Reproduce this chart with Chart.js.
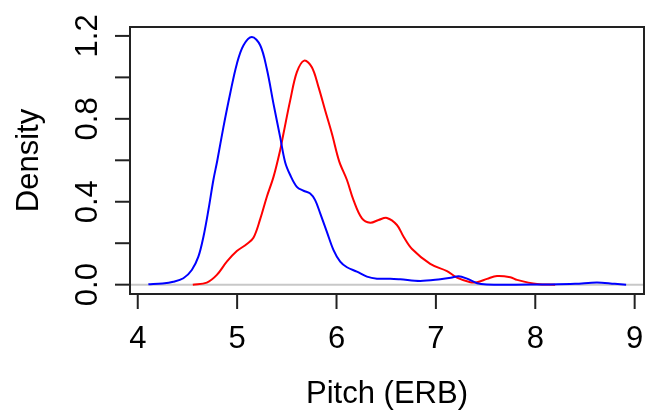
<!DOCTYPE html>
<html>
<head>
<meta charset="utf-8">
<script src="https://cdn.jsdelivr.net/npm/chart.js@4/dist/chart.umd.min.js"></script>
<style>
  html, body { margin: 0; padding: 0; background: #ffffff; }
  #wrap { width: 647px; height: 410px; }
</style>
</head>
<body>
<div id="wrap"><canvas id="c" width="647" height="410"></canvas></div>
<script>
// Kernel density estimates of pitch (ERB) for two groups
const blueX = [4.107, 4.25, 4.358, 4.459, 4.544, 4.61, 4.661, 4.711, 4.761, 4.80, 4.862, 4.929, 4.997, 5.063, 5.148, 5.232, 5.299, 5.366, 5.433, 5.483, 5.534, 5.601, 5.668, 5.735, 5.785, 5.836, 5.903, 5.97, 6.037, 6.105, 6.205, 6.306, 6.407, 6.541, 6.641, 6.843, 7.044, 7.15, 7.229, 7.313, 7.414, 7.51, 7.8, 8.1, 8.4, 8.62, 8.8, 8.914];
const blueY = [0.002, 0.006, 0.014, 0.031, 0.071, 0.135, 0.231, 0.36, 0.505, 0.598, 0.76, 0.92, 1.065, 1.154, 1.195, 1.155, 1.04, 0.872, 0.712, 0.591, 0.529, 0.472, 0.453, 0.44, 0.408, 0.344, 0.255, 0.167, 0.111, 0.084, 0.063, 0.039, 0.029, 0.029, 0.026, 0.018, 0.026, 0.033, 0.041, 0.029, 0.007, 0.001, 0.0, 0.001, 0.004, 0.011, 0.004, 0.0];

const redX = [4.554, 4.695, 4.796, 4.896, 4.997, 5.098, 5.164, 5.232, 5.299, 5.366, 5.433, 5.466, 5.534, 5.601, 5.675, 5.752, 5.819, 5.886, 5.954, 6.027, 6.105, 6.171, 6.256, 6.339, 6.423, 6.507, 6.608, 6.675, 6.76, 6.943, 7.112, 7.212, 7.346, 7.414, 7.515, 7.615, 7.749, 7.817, 8.018, 8.2];
const redY = [0.0, 0.01, 0.047, 0.111, 0.162, 0.196, 0.226, 0.316, 0.424, 0.52, 0.649, 0.728, 0.889, 1.025, 1.081, 1.049, 0.953, 0.84, 0.728, 0.595, 0.505, 0.408, 0.32, 0.299, 0.312, 0.322, 0.288, 0.231, 0.172, 0.1, 0.065, 0.034, 0.012, 0.012, 0.028, 0.042, 0.036, 0.023, 0.003, 0.0];

const xTicks = [4, 5, 6, 7, 8, 9];
const xTickLabels = ["4", "5", "6", "7", "8", "9"];
const yTicks = [0, 0.2, 0.4, 0.6, 0.8, 1.0, 1.2];
const yTickLabels = ["0.0", "", "0.4", "", "0.8", "", "1.2"];

const xTitle = "Pitch (ERB)";
const yTitle = "Density";

const FONT = '31px "Liberation Sans", Arial, Helvetica, sans-serif';

function toPoints(xs, ys) {
  return xs.map((x, i) => ({ x: x, y: ys[i] }));
}

// Base-graphics style frame: box, outward ticks, rotated y labels, zero line
const frame = {
  id: 'frame',
  beforeDatasetsDraw(chart) {
    const { ctx, chartArea: a, scales } = chart;
    const y0 = scales.y.getPixelForValue(0);
    ctx.save();
    ctx.strokeStyle = '#c8c8c8';
    ctx.lineWidth = 2;
    ctx.beginPath();
    ctx.moveTo(a.left, y0);
    ctx.lineTo(a.right, y0);
    ctx.stroke();
    ctx.restore();
  },
  afterDraw(chart) {
    const { ctx, chartArea: a, scales } = chart;
    ctx.save();
    ctx.strokeStyle = '#222222';
    ctx.lineWidth = 2;
    ctx.strokeRect(a.left, a.top, a.right - a.left, a.bottom - a.top);

    ctx.fillStyle = '#000000';
    ctx.font = FONT;

    // x axis ticks and labels
    ctx.textAlign = 'center';
    ctx.textBaseline = 'alphabetic';
    xTicks.forEach((v, i) => {
      const px = scales.x.getPixelForValue(v);
      ctx.beginPath();
      ctx.moveTo(px, a.bottom);
      ctx.lineTo(px, a.bottom + 15);
      ctx.stroke();
      ctx.fillText(xTickLabels[i], px, 348);
    });

    // y axis ticks and rotated labels
    yTicks.forEach((v, i) => {
      const py = scales.y.getPixelForValue(v);
      ctx.beginPath();
      ctx.moveTo(a.left - 15, py);
      ctx.lineTo(a.left, py);
      ctx.stroke();
      if (yTickLabels[i]) {
        ctx.save();
        ctx.translate(97, py);
        ctx.rotate(-Math.PI / 2);
        ctx.fillText(yTickLabels[i], 0, 0);
        ctx.restore();
      }
    });

    // axis titles
    ctx.fillText(xTitle, (a.left + a.right) / 2, 403);
    ctx.save();
    ctx.translate(38, (a.top + a.bottom) / 2);
    ctx.rotate(-Math.PI / 2);
    ctx.fillText(yTitle, 0, 0);
    ctx.restore();
    ctx.restore();
  }
};

new Chart(document.getElementById('c'), {
  type: 'line',
  data: {
    datasets: [
      {
        label: 'blue',
        data: toPoints(blueX, blueY),
        borderColor: '#0000ff',
        borderWidth: 2,
        pointRadius: 0,
        fill: false,
        tension: 0.35
      },
      {
        label: 'red',
        data: toPoints(redX, redY),
        borderColor: '#ff0000',
        borderWidth: 2,
        pointRadius: 0,
        fill: false,
        tension: 0.35
      }
    ]
  },
  options: {
    responsive: false,
    animation: false,
    events: [],
    layout: { padding: { left: 130, top: 27, right: 3, bottom: 116 } },
    plugins: { legend: { display: false }, tooltip: { enabled: false } },
    scales: {
      x: { type: 'linear', min: 3.922, max: 9.094, display: false },
      y: { type: 'linear', min: -0.045, max: 1.243, display: false }
    }
  },
  plugins: [frame]
});
</script>
</body>
</html>
